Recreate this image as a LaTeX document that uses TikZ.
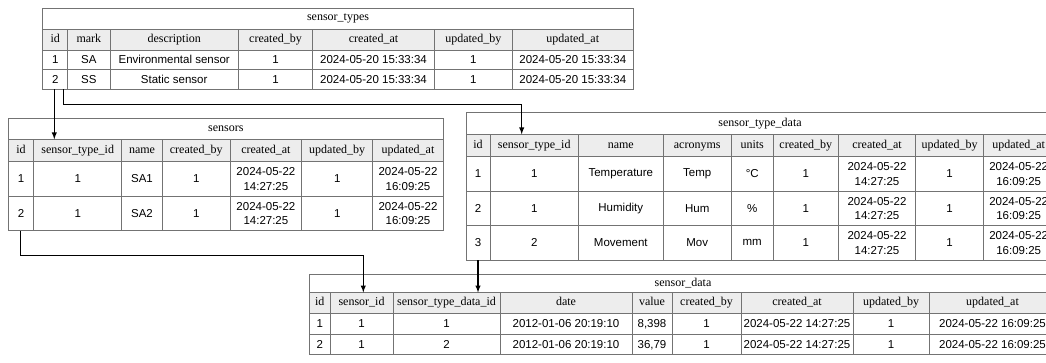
\documentclass[tikz,border=0pt]{standalone}
\usepackage{fontspec}
\setmainfont{Liberation Serif}
\newfontfamily\cellfont{Liberation Sans}
\usetikzlibrary{arrows}

\tikzset{
  tabline/.style={draw=black!55, line width=0.8pt},
  headfill/.style={fill=black!7},
  ttl/.style={inner sep=0pt, font=\fontsize{12}{14}\selectfont},
  hd/.style={inner sep=0pt, font=\fontsize{12}{14}\selectfont, text height=8pt, text depth=2.5pt},
  dt/.style={inner sep=0pt, font=\cellfont\fontsize{11.5}{14}\selectfont, text height=8.2pt, text depth=0pt},
  dtt/.style={inner sep=0pt, align=center, font=\cellfont\fontsize{11.5}{14.3}\selectfont},
  fk/.style={draw=black, line width=1.4pt, -latex},
}

\begin{document}
\begin{tikzpicture}[x=1pt,y=-1pt]
\path[use as bounding box] (0,0) rectangle (1046,362);
\clip (0,0) rectangle (1046,362);

% sensor_types
\fill[headfill] (42.7,29.3) rectangle (633.3,50);
\foreach \y in {29.3,50,69.3} \draw[tabline] (42.7,\y) -- (633.3,\y);
\foreach \x in {67.7,110,238.3,312.7,434.3,512.3} \draw[tabline] (\x,29.3) -- (\x,89.3);
\draw[tabline] (42.7,8.3) rectangle (633.3,89.3);
\node[ttl] (st) at (338,18.8) {sensor\_types};
\foreach \x/\h/\a/\b [count=\i] in {55.2/id/1/2, 88.9/mark/SA/SS,
  174.2/description/Environmental sensor/Static sensor, 275.5/created\_by/1/1,
  373.5/created\_at/{2024-05-20 15:33:34}/{2024-05-20 15:33:34}, 473.3/updated\_by/1/1,
  572.8/updated\_at/{2024-05-20 15:33:34}/{2024-05-20 15:33:34}}
{
  \node[hd] (st-h\i) at (\x,39.6) {\h};
  \node[dt] (st-a\i) at (\x,59.7) {\a};
  \node[dt] (st-b\i) at (\x,79.3) {\b};
}

% sensors
\fill[headfill] (8.3,139.3) rectangle (443.3,161.7);
\foreach \y in {139.3,161.7,196} \draw[tabline] (8.3,\y) -- (443.3,\y);
\foreach \x in {33.7,121.7,162.3,230,301.7,372.7} \draw[tabline] (\x,139.3) -- (\x,230.7);
\draw[tabline] (8.3,118.3) rectangle (443.3,230.7);
\node[ttl] (sn) at (225.8,128.8) {sensors};
\foreach \x/\h/\a/\b [count=\i] in {21/id/1/2, 77.7/sensor\_type\_id/1/1, 142/name/SA1/SA2,
  196.2/created\_by/1/1, 265.9/created\_at/{2024-05-22\\14:27:25}/{2024-05-22\\14:27:25},
  337.2/updated\_by/1/1, 408/updated\_at/{2024-05-22\\16:09:25}/{2024-05-22\\16:09:25}}
{
  \node[hd] (sn-h\i) at (\x,150.5) {\h};
  \node[dtt] (sn-a\i) at (\x,178.9) {\a};
  \node[dtt] (sn-b\i) at (\x,213.4) {\b};
}

% sensor_type_data
\fill[headfill] (466,134.3) rectangle (1054,156.7);
\foreach \y in {134.3,156.7,191,225.7} \draw[tabline] (466,\y) -- (1054,\y);
\foreach \x in {490,578.3,663.3,731,773.3,838.3,915.7,983.3} \draw[tabline] (\x,134.3) -- (\x,260);
\draw[tabline] (466,112.3) rectangle (1054,260);
\node[ttl] (std) at (760,123.3) {sensor\_type\_data};
\foreach \x/\h/\a/\b/\c [count=\i] in {478/id/1/2/3, 534.2/sensor\_type\_id/1/1/2,
  620.8/name/Temperature/Humidity/Movement, 697.2/acronyms/Temp/Hum/Mov, 752.2/units/°C/\%/mm,
  805.8/created\_by/1/1/1,
  877/created\_at/{2024-05-22\\14:27:25}/{2024-05-22\\14:27:25}/{2024-05-22\\14:27:25},
  949.5/updated\_by/1/1/1,
  1018.7/updated\_at/{2024-05-22\\16:09:25}/{2024-05-22\\16:09:25}/{2024-05-22\\16:09:25}}
{
  \node[hd] (std-h\i) at (\x,145.5) {\h};
  \node[dtt] (std-a\i) at (\x,173.9) {\a};
  \node[dtt] (std-b\i) at (\x,208.4) {\b};
  \node[dtt] (std-c\i) at (\x,242.9) {\c};
}

% sensor_data
\fill[headfill] (309.5,292.5) rectangle (1056,313.5);
\foreach \y in {292.5,313.5,334} \draw[tabline] (309.5,\y) -- (1056,\y);
\foreach \x in {330,393,500,632,672,741,853,929} \draw[tabline] (\x,292.5) -- (\x,354);
\draw[tabline] (309.5,274) rectangle (1056,354);
\node[ttl] (sd) at (683,283.3) {sensor\_data};
\foreach \x/\h/\a/\b [count=\i] in {319.8/id/1/2, 361.5/sensor\_id/1/1,
  446.5/sensor\_type\_data\_id/1/2, 566/date/{2012-01-06 20:19:10}/{2012-01-06 20:19:10},
  652/value/{8,398}/{36,79}, 706.5/created\_by/1/1,
  797/created\_at/{2024-05-22 14:27:25}/{2024-05-22 14:27:25}, 891/updated\_by/1/1,
  992.5/updated\_at/{2024-05-22 16:09:25}/{2024-05-22 16:09:25}}
{
  \node[hd] (sd-h\i) at (\x,303) {\h};
  \node[dt] (sd-a\i) at (\x,323.8) {\a};
  \node[dt] (sd-b\i) at (\x,344) {\b};
}

\coordinate (st-fk1) at (54.3,89.3);
\coordinate (sn-in) at (54.3,139.3);
\coordinate (st-fk2) at (63.3,89.3);
\coordinate (bend-a) at (521.7,104.3);
\coordinate (std-in) at (521.7,134.3);
\coordinate (sn-fk) at (20.5,230.7);
\coordinate (bend-b) at (363.3,255.5);
\coordinate (sd-in1) at (363.3,292.5);
\coordinate (std-fk) at (478,260);
\coordinate (sd-in2) at (478,292.5);

\draw[fk] (st-fk1) -- (sn-in);
\draw[fk] (st-fk2) |- (bend-a) -- (std-in);
\draw[fk] (sn-fk) |- (bend-b) -- (sd-in1);
\draw[fk] (std-fk) -- (sd-in2);
\end{tikzpicture}
\end{document}
